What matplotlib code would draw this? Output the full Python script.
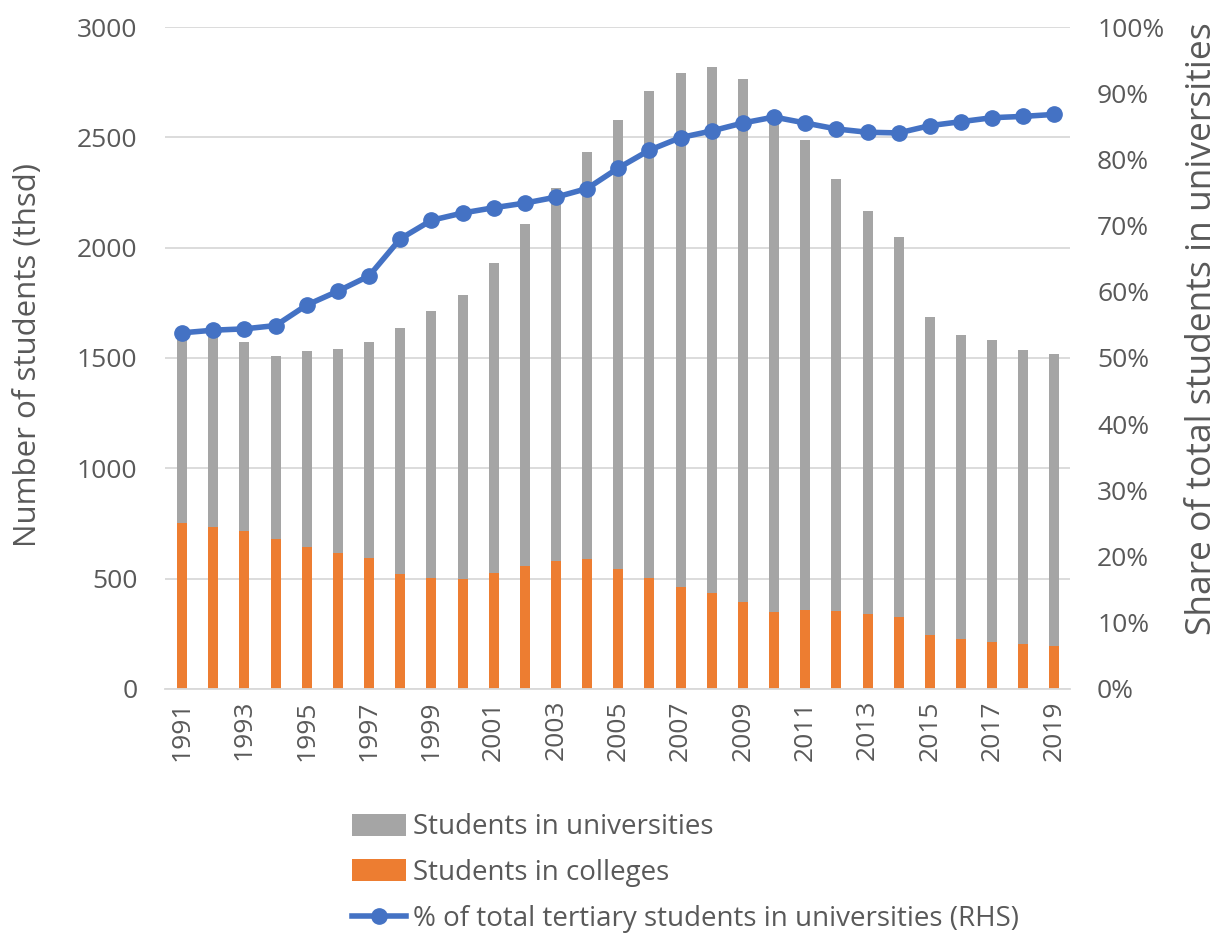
import matplotlib
matplotlib.use("Agg")
import matplotlib.pyplot as plt
from matplotlib.patches import Patch
from matplotlib.lines import Line2D
from matplotlib.ticker import FuncFormatter, MultipleLocator
import numpy as np

plt.rcParams['font.family'] = ['Open Sans', 'DejaVu Sans']

years = list(range(1991, 2020))

# Total tertiary students (thousands): colleges + universities
total_students = [1595, 1612, 1574, 1509, 1532, 1540, 1571, 1635, 1713,
                  1787, 1930, 2108, 2270, 2435, 2578, 2712, 2791, 2818,
                  2763, 2600, 2490, 2310, 2167, 2049, 1686, 1602, 1583,
                  1538, 1519]

# Students in colleges (thousands)
college_students = [754, 736, 718, 679, 642, 615, 593, 523, 501,
                    500, 525, 559, 581, 590, 544, 501, 463, 436,
                    392, 347, 357, 353, 338, 325, 244, 225, 212,
                    203, 193]

# Students in universities (thousands)
university_students = [t - c for t, c in zip(total_students, college_students)]

# Share of tertiary students enrolled in universities (%)
university_share = [53.8, 54.2, 54.4, 54.9, 58.0, 60.1, 62.4, 68.0, 70.8,
                    71.9, 72.7, 73.4, 74.3, 75.6, 78.7, 81.4, 83.3, 84.3,
                    85.5, 86.4, 85.5, 84.6, 84.1, 84.0, 85.1, 85.7, 86.3,
                    86.5, 86.8]

GRAY = "#A5A5A5"
ORANGE = "#ED7D31"
BLUE = "#4472C4"
TEXT = "#595959"
GRID = "#D9D9D9"

fig = plt.figure(figsize=(12.18, 9.38), dpi=100)
ax = fig.add_axes([0.1355, 0.2655, 0.743, 0.7057])

x = np.arange(len(years))
width = 0.32

ax.bar(x, college_students, width, color=ORANGE, zorder=2)
ax.bar(x, university_students, width, bottom=college_students, color=GRAY, zorder=2)

ax.set_ylim(0, 3000)
ax.set_xlim(-0.55, len(years) - 0.5)
ax.yaxis.set_major_locator(MultipleLocator(500))
ax.grid(axis='y', color=GRID, linewidth=1.3, zorder=0)
ax.set_axisbelow(True)
for side in ['top', 'right', 'left']:
    ax.spines[side].set_visible(False)
ax.spines['bottom'].set_color(GRID)
ax.spines['bottom'].set_linewidth(1.3)

ax.set_xticks(x[::2])
ax.set_xticklabels([str(y) for y in years[::2]], rotation=90, fontsize=19, color=TEXT)
ax.tick_params(axis='x', length=0, pad=8)
ax.tick_params(axis='y', length=0, pad=20, labelsize=19, labelcolor=TEXT)
ax.set_ylabel("Number of students (thsd)", fontsize=22.5, color=TEXT)
ax.yaxis.set_label_coords(-0.135, 0.505)

ax2 = ax.twinx()
ax2.plot(x, university_share, color=BLUE, linewidth=4, marker='o',
         markersize=11, zorder=5)
ax2.set_ylim(0, 100)
ax2.yaxis.set_major_locator(MultipleLocator(10))
ax2.yaxis.set_major_formatter(FuncFormatter(lambda v, p: f"{int(v)}%"))
ax2.tick_params(axis='y', length=0, pad=19.5, labelsize=19, labelcolor=TEXT)
for side in ['top', 'right', 'left', 'bottom']:
    ax2.spines[side].set_visible(False)
ax2.set_ylabel("Share of total students in universities", fontsize=25.5, color=TEXT)
ax2.yaxis.set_label_coords(1.127, 0.545)

handles = [
    Patch(facecolor=GRAY, edgecolor='none', label="Students in universities"),
    Patch(facecolor=ORANGE, edgecolor='none', label="Students in colleges"),
    Line2D([0], [0], color=BLUE, linewidth=4, marker='o', markersize=11,
           label="% of total tertiary students in universities (RHS)"),
]
leg = fig.legend(handles=handles, loc='upper left', bbox_to_anchor=(0.289, 0.133),
                 frameon=False, fontsize=20, handlelength=1.95, handleheight=0.83,
                 handletextpad=0.25, labelspacing=0.64, borderaxespad=0,
                 borderpad=0)
for t in leg.get_texts():
    t.set_color(TEXT)

fig.savefig("out.png", dpi=100)
